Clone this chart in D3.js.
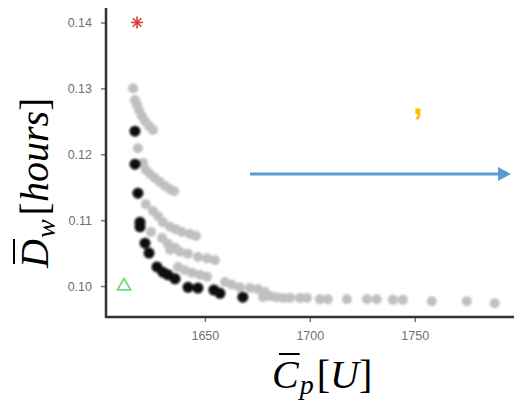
<!DOCTYPE html>
<html><head><meta charset="utf-8">
<script src="https://cdn.jsdelivr.net/npm/d3@7"></script>
<style>html,body{margin:0;padding:0;background:#fff;}svg{display:block;}</style>
</head><body>
<svg id="chart" width="514" height="403"></svg>
<script>
// ---- data ----
const xTicks = [1650, 1700, 1750];
const yTicks = [0.10, 0.11, 0.12, 0.13, 0.14];

const grayX = [1615.8,1616.7,1617.7,1618.6,1620.0,1621.5,1623.4,1625.3,1618.1,
  1620.5,1621.9,1623.9,1626.2,1628.6,1631.0,1633.4,1635.3,
  1621.9,1625.3,1627.7,1630.0,1633.4,1636.2,1639.1,1642.9,1645.8,
  1624.3,1629.6,1632.4,1635.8,1633.4,1638.1,1641.9,1646.7,1651.0,1654.8,
  1637.2,1640.5,1643.9,1647.7,1651.0,
  1659.6,1662.9,1666.7,1671.5,1675.3,1678.6,
  1677.7,1681.0,1683.9,1687.2,1690.5,1695.3,1698.6,1704.8,1708.6,1717.7,1727.2,1731.9,1739.6,1744.3,1758.1,1774.8,1788.1];
const grayY = [0.1300,0.1282,0.1275,0.1267,0.1258,0.1250,0.1243,0.1237,0.1209,
  0.1187,0.1176,0.1170,0.1164,0.1158,0.1152,0.1147,0.1144,
  0.1124,0.1114,0.1106,0.1097,0.1090,0.1086,0.1082,0.1079,0.1076,
  0.1082,0.1073,0.1064,0.1058,0.1055,0.1052,0.1049,0.1044,0.1042,0.1039,
  0.1029,0.1024,0.1020,0.1017,0.1014,
  0.1006,0.1002,0.0998,0.0997,0.0995,0.0991,
  0.0983,0.0985,0.0983,0.0982,0.0982,0.0982,0.0982,0.0980,0.0980,0.0980,0.0980,0.0980,0.0979,0.0979,0.0977,0.0977,0.0974];

const blackX = [1616.7,1616.7,1618.1,1619.1,1619.1,1621.5,1623.4,1627.2,1630.0,1632.4,1635.8,1642.0,1646.7,1654.3,1657.2,1668.1];
const blackY = [0.1235,0.1185,0.1141,0.1097,0.1090,0.1065,0.1050,0.1029,0.1021,0.1017,0.1011,0.0998,0.0997,0.0994,0.0989,0.0983];

const starPoint = [1617.7, 0.1400];
const trianglePoint = [1611.5, 0.1000];

// ---- layout ----
const svg = d3.select("#chart");
const x = d3.scaleLinear().domain([1602.9, 1797.3]).range([106, 514]);
const y = d3.scaleLinear().domain([0.0953, 0.1422]).range([317, 8]);

const defs = svg.append("defs");
defs.append("filter").attr("id","soft").append("feGaussianBlur").attr("stdDeviation",0.8);

// axes
const yAxis = d3.axisLeft(y).tickValues(yTicks).tickFormat(d3.format(".2f")).tickSize(5).tickPadding(9);
const xAxis = d3.axisBottom(x).tickValues(xTicks).tickFormat(d3.format("d")).tickSize(5).tickPadding(9);

const gy = svg.append("g").attr("transform","translate(106,0)").call(yAxis);
const gx = svg.append("g").attr("transform","translate(0,317)").call(xAxis);
[gy, gx].forEach(g => {
  g.select(".domain").remove();
  g.selectAll(".tick line").attr("stroke","#777").attr("stroke-width",1.5);
  g.selectAll(".tick text").attr("fill","#707070").style("font-family","Liberation Sans, Arial, sans-serif").style("font-size","12.5px");
});
svg.append("line").attr("x1",106).attr("x2",106).attr("y1",8).attr("y2",318).attr("stroke","#333").attr("stroke-width",2.5);
svg.append("line").attr("x1",105).attr("x2",514).attr("y1",317).attr("y2",317).attr("stroke","#333").attr("stroke-width",2.5);

// points
const gray = grayX.map((v,i)=>[v, grayY[i]]);
const black = blackX.map((v,i)=>[v, blackY[i]]);
svg.append("g").attr("filter","url(#soft)").selectAll("circle").data(gray).join("circle")
  .attr("cx",d=>x(d[0])).attr("cy",d=>y(d[1])).attr("r",5).attr("fill","#c0c0c0");
svg.append("g").attr("filter","url(#soft)").selectAll("circle").data(black).join("circle")
  .attr("cx",d=>x(d[0])).attr("cy",d=>y(d[1])).attr("r",5.5).attr("fill","#0a0a0a");

// star
const sx = x(starPoint[0]), sy = y(starPoint[1]);
const sg = svg.append("g").attr("transform",`translate(${sx},${sy})`).attr("stroke","#d93a3a").attr("stroke-width",1.6);
[0,45,90,135].forEach(a => {
  const r = 6, t = a*Math.PI/180;
  sg.append("line").attr("x1",-r*Math.cos(t)).attr("y1",-r*Math.sin(t)).attr("x2",r*Math.cos(t)).attr("y2",r*Math.sin(t));
});
// triangle
const tx = x(trianglePoint[0]), ty = y(trianglePoint[1]);
svg.append("path").attr("d",d3.symbol().type(d3.symbolTriangle).size(75)())
  .attr("transform",`translate(${tx},${ty})`).attr("fill","none").attr("stroke","#6fdc6f").attr("stroke-width",1.8);

// blue arrow
svg.append("line").attr("x1",250).attr("x2",499).attr("y1",174).attr("y2",174).attr("stroke","#5b9bd5").attr("stroke-width",3.2);
svg.append("path").attr("d","M498,167 L511,174 L498,181 Z").attr("fill","#5b9bd5");

// orange comma
svg.append("text").attr("x",413).attr("y",114).text(",").attr("fill","#ffc000")
  .style("font-family","Liberation Sans, Arial, sans-serif").style("font-size","36px").style("font-weight","bold");

// ---- axis titles ----
const serif = "Liberation Serif, Times New Roman, serif";
function piece(g, txt, xpos, ypos, size, italic){
  const t = g.append("text").attr("x",xpos).attr("y",ypos).text(txt).attr("fill","#000")
    .style("font-family",serif).style("font-size",size+"px").style("font-style",italic?"italic":"normal");
  return t.node().getComputedTextLength();
}
// x title
const xt = svg.append("g");
let cx0 = 272;
let w = piece(xt,"C",cx0,388,40,true);
xt.append("line").attr("x1",cx0+7).attr("x2",cx0+w+1).attr("y1",354).attr("y2",354).attr("stroke","#000").attr("stroke-width",2);
cx0 += w + 1;
w = piece(xt,"p",cx0,394,28,true); cx0 += w + 3;
w = piece(xt,"[",cx0,388,40,false); cx0 += w;
w = piece(xt,"U",cx0,388,40,true); cx0 += w;
piece(xt,"]",cx0,388,40,false);

// y title (rotated)
const yt = svg.append("g").attr("transform","translate(48,268) rotate(-90)");
let lx = 0;
w = piece(yt,"D",lx,0,40,true);
yt.append("line").attr("x1",lx+4).attr("x2",lx+w).attr("y1",-34).attr("y2",-34).attr("stroke","#000").attr("stroke-width",2);
lx += w + 1;
w = piece(yt,"w",lx,7,28,true); lx += w + 4;
w = piece(yt,"[",lx,0,40,false); lx += w;
w = piece(yt,"hours",lx,0,40,true); lx += w;
piece(yt,"]",lx,0,40,false);
</script>
</body></html>
